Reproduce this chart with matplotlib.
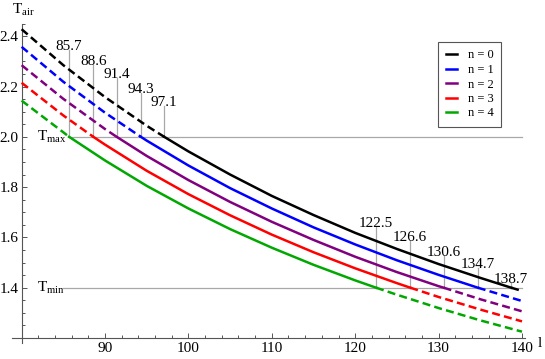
import numpy as np
import matplotlib
matplotlib.use("Agg")
import matplotlib.pyplot as plt

plt.rcParams['font.family'] = ['Liberation Serif', 'DejaVu Serif']
plt.rcParams['mathtext.fontset'] = 'custom'
plt.rcParams['mathtext.rm'] = 'Liberation Serif'
plt.rcParams['mathtext.it'] = 'Liberation Serif:italic'

# sampled l values and the read T_air values for each curve
l_grid = [80, 85, 90, 95, 100, 105, 110, 115, 120, 125, 130, 135, 140]
T_n0 = [2.428, 2.285, 2.158, 2.044, 1.942, 1.850, 1.765, 1.689, 1.618, 1.554, 1.494, 1.439, 1.387]
T_n1 = [2.358, 2.219, 2.096, 1.985, 1.886, 1.796, 1.715, 1.640, 1.572, 1.509, 1.451, 1.397, 1.347]
T_n2 = [2.285, 2.151, 2.031, 1.924, 1.828, 1.741, 1.662, 1.590, 1.523, 1.462, 1.406, 1.354, 1.306]
T_n3 = [2.215, 2.085, 1.969, 1.865, 1.772, 1.688, 1.611, 1.541, 1.477, 1.418, 1.363, 1.313, 1.266]
T_n4 = [2.144, 2.018, 1.906, 1.805, 1.715, 1.633, 1.559, 1.491, 1.429, 1.372, 1.319, 1.270, 1.225]
curves = [T_n0, T_n1, T_n2, T_n3, T_n4]
names = ['n = 0', 'n = 1', 'n = 2', 'n = 3', 'n = 4']

# crossing points with T_max and T_min
T_max = 2.0
T_min = 1.4
l_at_Tmax = [97.1, 94.3, 91.4, 88.6, 85.7]
l_at_Tmin = [138.7, 134.7, 130.6, 126.6, 122.5]

colors = ['black', '#0000ff', '#800080', '#ff0000', '#00a800']

# heights where the marker lines stop / labels sit
top_max = [2.123, 2.175, 2.234, 2.286, 2.346]
top_min = [1.420, 1.479, 1.527, 1.587, 1.642]

fig = plt.figure(figsize=(5.45, 3.59), dpi=100)
ax = fig.add_axes([0.0213, 0.0446, 0.9426, 0.8894])

lw = 1.8
dash = (3.2, 1.7)
for T, lmx, lmn, c, nm in zip(curves, l_at_Tmax, l_at_Tmin, colors, names):
    up = [(l, t) for l, t in zip(l_grid, T) if l < lmx] + [(lmx, T_max)]
    mid = [(lmx, T_max)] + [(l, t) for l, t in zip(l_grid, T) if lmx < l < lmn] + [(lmn, T_min)]
    low = [(lmn, T_min)] + [(l, t) for l, t in zip(l_grid, T) if l > lmn]
    x, y = zip(*up)
    ax.plot(x, y, color=c, lw=lw, dashes=dash, zorder=3)
    x, y = zip(*mid)
    ax.plot(x, y, color=c, lw=lw, zorder=3, label=nm)
    x, y = zip(*low)
    ax.plot(x, y, color=c, lw=lw, dashes=dash, zorder=3)

gray = '#a8a8a8'
ax.plot([85.6, 140], [T_max, T_max], color=gray, lw=0.9, zorder=1)
ax.plot([85.0, 140], [T_min, T_min], color=gray, lw=0.9, zorder=1)
ax.text(81.85, T_max, r'$\mathrm{T}_{\mathrm{max}}$', fontsize=11, ha='left', va='center')
ax.text(81.85, T_min, r'$\mathrm{T}_{\mathrm{min}}$', fontsize=11, ha='left', va='center')

for l, top in zip(l_at_Tmax, top_max):
    ax.plot([l, l], [T_max, top], color=gray, lw=0.9, zorder=1)
    ax.text(l, top, f'{l:.1f}', fontsize=11, ha='center', va='baseline')
for l, top in zip(l_at_Tmin, top_min):
    ax.plot([l, l], [T_min, top], color=gray, lw=0.9, zorder=1)
    ax.text(l, top, f'{l:.1f}', fontsize=11, ha='center', va='baseline')

ax.set_xlim(78.8, 140.4)
ax.set_ylim(1.18, 2.45)
for s in ['top', 'right']:
    ax.spines[s].set_visible(False)
ax.spines['left'].set_position(('data', 80))
ax.spines['bottom'].set_position(('data', 1.2))
for s in ['left', 'bottom']:
    ax.spines[s].set_color('#555555')
    ax.spines[s].set_linewidth(0.8)
ax.patch.set_visible(False)

ax.set_xticks([90, 100, 110, 120, 130, 140])
ax.set_xticks([x for x in np.arange(82, 140, 2) if x % 10 != 0], minor=True)
ax.set_yticks([1.4, 1.6, 1.8, 2.0, 2.2, 2.4])
ax.set_yticklabels(['1.4', '1.6', '1.8', '2.0', '2.2', '2.4'])
ax.set_yticks([v for v in np.arange(1.25, 2.45, 0.05) if abs(v * 5 - round(v * 5)) > 1e-6], minor=True)
ax.tick_params(which='both', direction='in', color='#555555', width=0.7, labelsize=11)
ax.tick_params(which='major', length=3.5)
ax.tick_params(which='minor', length=2)
ax.tick_params(axis='x', pad=3)
ax.tick_params(axis='y', pad=2)

fig.text(12 / 545, 1 - 2 / 359, r'$\mathrm{T}_{\mathrm{air}}$', fontsize=11, ha='left', va='top')
fig.text(538 / 545, 1 - 347 / 359, 'l', fontsize=11, ha='left', va='baseline')

leg = ax.legend(loc='upper left', bbox_to_anchor=(438 / 545, 1 - 42 / 359),
                bbox_transform=fig.transFigure, fontsize=9, frameon=True,
                fancybox=False, edgecolor='#555555', framealpha=1,
                handlelength=0.9, handletextpad=0.9, labelspacing=0.2,
                borderpad=0.6, borderaxespad=0)
leg.get_frame().set_linewidth(0.8)
leg.set_zorder(5)

fig.savefig('out.png', dpi=100)
